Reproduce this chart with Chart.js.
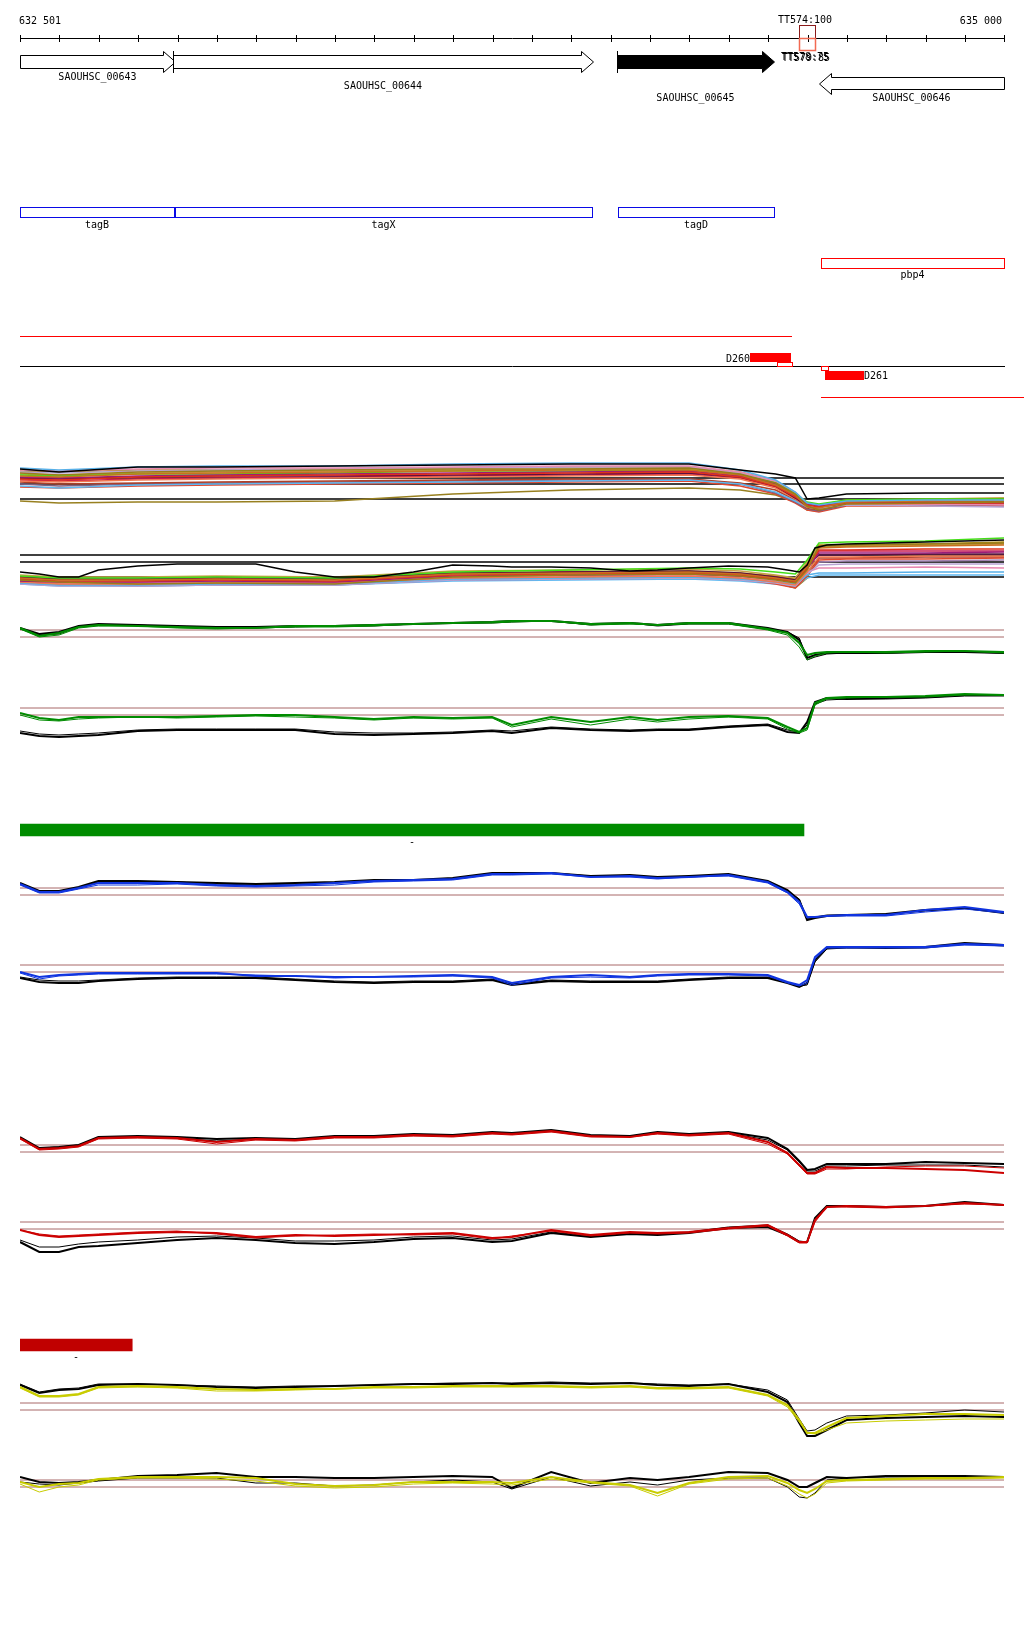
<!DOCTYPE html>
<html>
<head>
<meta charset="utf-8">
<title>SAOUHSC_00643 - 00646 region</title>
<script src="https://cdn.jsdelivr.net/npm/chart.js@4.4.1/dist/chart.umd.min.js"></script>
<style>
  body { margin: 0; background: #fff; }
  #page { position: relative; width: 1024px; height: 1640px; background: #fff; overflow: hidden; }
  .panel { position: absolute; left: 0; width: 1024px; }
</style>
</head>
<body>
<div id="page"></div>
<script>
// genome window
const START = 632501;
const END = 635000;
const RULER_TICKS = [632501, 632601, 632701, 632801, 632901, 633001, 633101, 633201, 633301, 633401,
  633501, 633601, 633701, 633801, 633901, 634001, 634101, 634201, 634301, 634401,
  634501, 634601, 634701, 634801, 634901, 635000];

// genes
const GENE_NAMES = ['SAOUHSC_00643', 'SAOUHSC_00644', 'SAOUHSC_00645', 'SAOUHSC_00646'];
const GENE_START = [632501, 632890, 634016, 634530];
const GENE_END = [632895, 633955, 634416, 635000];
const GENE_STRAND = ['+', '+', '+', '-'];

// terminator
const TERM_POS = 634500;
const TERM_LABEL = 'TT574:100';
const TERM_SUB_LABELS = ['TT578:75', 'TT579:85'];

// annotation boxes
const ANNOT_NAMES = ['tagB', 'tagX', 'tagD'];
const ANNOT_START = [632501, 632895, 634019];
const ANNOT_END = [632893, 633953, 634416];
const PBP_NAME = 'pbp4';
const PBP_START = 634535;
const PBP_END = 635000;

// transcripts
const TX_FWD_END = 634461;
const D260 = [634355, 634459];
const D260_BOX = [634423, 634461];
const D261 = [634545, 634644];
const D261_BOX = [634535, 634553];
const TX_REV_START = 634535;

// condition bars
const GREEN_BAR = [632501, 634492];
const RED_BAR = [632501, 632786];

// positions for the tiling profiles
const MX = [632501, 632600, 632800, 633000, 633300, 633600, 633900, 634200, 634330, 634420, 634470, 634500, 634530, 634600, 634800, 635000];
const F = [632501, 632550, 632600, 632650, 632700, 632800, 632900, 633000, 633100, 633200, 633300, 633400,
  633500, 633600, 633700, 633750, 633850, 633950, 634050, 634120, 634200, 634300, 634400, 634450,
  634480, 634500, 634520, 634550, 634600, 634700, 634800, 634900, 635000];

// all conditions, + strand
const ALL_PLUS_COLORS = ['#58b0e8', '#9a7d1a', '#c8701e', '#e0301c', '#9c1c78', '#44dd18', '#e888b0', '#b8a4d4', '#5a1040',
  '#f07850', '#c8a048', '#60b8f0', '#b04028', '#806080', '#e04830', '#988020', '#b08c10', '#c81850'];
const ALL_PLUS = [
  [4.7, 4.5, 4.8, 4.9, 4.9, 5.1, 5.2, 5.2, 4.5, 3.5, 2.3, 1.2, 1.0, 1.4, 1.5, 1.5],
  [4.2, 4.0, 4.3, 4.4, 4.5, 4.6, 4.6, 4.7, 4.1, 3.2, 2.1, 0.9, 0.5, 1.1, 1.2, 1.3],
  [3.9, 3.8, 4.1, 4.2, 4.3, 4.4, 4.5, 4.5, 4.0, 3.0, 2.0, 0.8, 0.7, 1.3, 1.4, 1.4],
  [3.6, 3.5, 3.8, 3.9, 4.0, 4.1, 4.2, 4.3, 3.8, 2.9, 1.8, 1.0, 0.8, 1.2, 1.2, 1.2],
  [3.8, 3.7, 3.9, 4.0, 4.1, 4.2, 4.3, 4.4, 3.9, 3.1, 1.9, 1.1, 0.9, 1.3, 1.3, 1.2],
  [4.0, 3.9, 4.1, 4.1, 4.2, 4.4, 4.4, 4.5, 4.0, 3.2, 2.1, 1.3, 1.1, 1.5, 1.6, 1.6],
  [4.5, 4.4, 4.6, 4.7, 4.7, 4.8, 4.9, 4.9, 4.3, 3.4, 2.3, 1.2, 0.9, 1.2, 1.1, 1.0],
  [4.3, 4.2, 4.4, 4.5, 4.6, 4.7, 4.8, 4.8, 4.2, 3.3, 2.1, 1.0, 0.7, 1.0, 0.9, 0.8],
  [3.7, 3.6, 3.8, 3.9, 3.9, 4.0, 4.1, 4.2, 3.8, 2.9, 1.7, 0.9, 0.7, 1.2, 1.2, 1.3],
  [3.4, 3.3, 3.5, 3.6, 3.7, 3.8, 3.9, 4.0, 3.6, 2.7, 1.6, 0.8, 0.6, 1.1, 1.1, 1.1],
  [4.1, 4.0, 4.2, 4.3, 4.4, 4.5, 4.6, 4.6, 4.1, 3.1, 2.0, 1.1, 0.9, 1.4, 1.5, 1.5],
  [2.9, 2.7, 3.0, 3.1, 3.2, 3.3, 3.4, 3.5, 3.1, 2.3, 1.4, 0.8, 0.6, 1.2, 1.2, 1.2],
  [3.3, 3.1, 3.2, 3.3, 3.4, 3.5, 3.6, 3.6, 3.2, 2.5, 1.5, 0.7, 0.5, 1.1, 1.1, 1.0],
  [3.1, 2.9, 3.1, 3.2, 3.3, 3.4, 3.5, 3.6, 3.1, 2.2, 1.3, 0.6, 0.4, 1.0, 1.0, 0.9],
  [2.8, 2.7, 2.9, 3.0, 3.1, 3.2, 3.3, 3.4, 2.9, 2.1, 1.2, 0.5, 0.3, 0.9, 0.9, 0.9],
  [1.4, 1.2, 1.3, 1.3, 1.4, 2.1, 2.5, 2.7, 2.5, 2.0, 1.3, 0.5, 0.4, 1.1, 1.3, 1.4],
  [4.4, 4.3, 4.5, 4.5, 4.6, 4.7, 4.8, 4.8, 4.3, 3.4, 2.2, 1.2, 1.0, 1.5, 1.6, 1.7],
  [3.5, 3.4, 3.6, 3.7, 3.8, 3.9, 4.0, 4.1, 3.7, 2.8, 1.7, 0.9, 0.7, 1.1, 1.2, 1.2]
];
const ALL_PLUS_TOP = [4.6, 4.3, 4.8, 4.8, 4.9, 5.0, 5.1, 5.1, 4.5, 4.1, 3.7, 1.6, 1.7, 2.1, 2.2, 2.2];
const ALL_PLUS_REFS = [3.7, 3.1, 1.6];

// all conditions, - strand
const ALL_MINUS_COLORS = ['#44dd18', '#9a7d1a', '#c8701e', '#e0301c', '#9c1c78', '#5a1040', '#f07850', '#58b0e8', '#b8a4d4',
  '#e888b0', '#c8a048', '#e04830', '#c81850', '#a080b0', '#b08c10', '#60b8f0', '#988020', '#b04028'];
const ALL_MINUS = [
  [1.7, 1.5, 1.5, 1.6, 1.5, 2.1, 2.3, 2.5, 2.4, 2.1, 1.9, 3.3, 5.0, 5.1, 5.2, 5.5],
  [1.3, 1.1, 0.9, 1.0, 0.9, 1.6, 1.8, 1.9, 1.7, 1.3, 1.0, 2.3, 4.7, 4.8, 4.9, 5.0],
  [1.5, 1.3, 1.3, 1.4, 1.3, 1.9, 2.0, 2.1, 1.9, 1.5, 1.2, 2.7, 4.5, 4.6, 4.7, 4.8],
  [1.4, 1.2, 1.2, 1.3, 1.2, 1.8, 1.9, 2.0, 1.8, 1.4, 1.1, 2.5, 4.3, 4.3, 4.4, 4.4],
  [1.2, 1.1, 1.1, 1.2, 1.1, 1.7, 1.8, 1.9, 1.7, 1.4, 1.1, 2.4, 4.0, 4.0, 4.0, 4.1],
  [1.6, 1.4, 1.4, 1.5, 1.4, 2.0, 2.1, 2.2, 2.0, 1.6, 1.3, 2.7, 3.8, 3.8, 3.9, 3.9],
  [1.1, 0.9, 0.9, 1.0, 1.0, 1.5, 1.6, 1.7, 1.5, 1.1, 0.8, 2.1, 3.6, 3.6, 3.7, 3.7],
  [1.0, 0.8, 0.8, 0.9, 0.9, 1.4, 1.5, 1.6, 1.4, 1.1, 0.9, 1.8, 2.0, 2.0, 2.1, 2.1],
  [0.9, 0.7, 0.7, 0.8, 0.8, 1.3, 1.4, 1.5, 1.3, 1.0, 0.7, 1.9, 2.8, 2.9, 2.9, 2.9],
  [1.3, 1.0, 1.0, 1.1, 1.1, 1.6, 1.7, 1.8, 1.6, 1.2, 0.9, 2.1, 2.5, 2.5, 2.6, 2.5],
  [1.8, 1.6, 1.6, 1.7, 1.6, 2.2, 2.3, 2.4, 2.2, 1.8, 1.5, 3.1, 4.7, 4.7, 4.8, 4.9],
  [1.1, 0.9, 0.8, 0.9, 0.9, 1.5, 1.6, 1.7, 1.4, 0.9, 0.5, 1.7, 3.3, 3.4, 3.4, 3.5],
  [1.5, 1.4, 1.4, 1.5, 1.4, 1.9, 2.1, 2.1, 1.9, 1.6, 1.3, 2.8, 4.2, 4.2, 4.2, 4.2],
  [1.0, 0.8, 0.7, 0.8, 0.8, 1.3, 1.4, 1.5, 1.3, 1.0, 0.7, 1.9, 3.1, 3.2, 3.2, 3.3],
  [1.6, 1.4, 1.3, 1.4, 1.4, 2.0, 2.1, 2.2, 2.0, 1.7, 1.4, 3.0, 4.8, 4.8, 4.9, 5.1],
  [0.9, 0.7, 0.7, 0.8, 0.8, 1.2, 1.3, 1.4, 1.2, 0.9, 0.7, 1.5, 1.8, 1.8, 1.8, 1.8],
  [1.4, 1.0, 0.8, 0.9, 1.0, 1.5, 1.7, 1.8, 1.5, 1.0, 0.5, 1.5, 4.6, 4.7, 4.8, 5.0],
  [1.2, 1.0, 1.0, 1.1, 1.0, 1.6, 1.7, 1.8, 1.6, 1.1, 0.6, 1.9, 3.5, 3.5, 3.6, 3.6]
];
const ALL_MINUS_BLACK = [2.1, 1.9, 1.6, 1.6, 2.3, 2.7, 2.9, 2.9, 2.9, 2.1, 1.6, 1.6, 2.1, 2.8, 2.7, 2.6, 2.6, 2.5, 2.2, 2.3,
  2.5, 2.7, 2.6, 2.3, 2.1, 2.8, 4.5, 4.8, 4.9, 5.0, 5.1, 5.2, 5.3];
const ALL_MINUS_REFS = [3.8, 3.1, 1.6];

// green condition
const GREEN_PLUS = [
  [4.2, 3.4, 3.7, 4.3, 4.5, 4.4, 4.3, 4.2, 4.2, 4.4, 4.4, 4.5, 4.6, 4.7, 4.8, 4.9, 4.9, 4.6, 4.7, 4.5, 4.7, 4.7, 4.1, 3.7, 2.7, 1.5, 1.7, 1.8, 1.8, 1.8, 1.9, 1.9, 1.8],
  [4.1, 3.3, 3.5, 4.2, 4.4, 4.4, 4.2, 4.1, 4.2, 4.3, 4.3, 4.4, 4.6, 4.7, 4.7, 4.8, 4.9, 4.5, 4.6, 4.5, 4.6, 4.6, 4.0, 3.5, 2.3, 1.0, 1.4, 1.7, 1.8, 1.7, 1.8, 1.9, 1.7]
];
const GREEN_PLUS_CTRL = [
  [4.2, 3.6, 3.8, 4.4, 4.6, 4.5, 4.4, 4.3, 4.3, 4.4, 4.4, 4.5, 4.6, 4.7, 4.8, 4.9, 4.9, 4.6, 4.7, 4.5, 4.7, 4.7, 4.2, 3.8, 3.0, 1.2, 1.5, 1.7, 1.7, 1.7, 1.8, 1.8, 1.7],
  [4.1, 3.5, 3.6, 4.3, 4.5, 4.5, 4.3, 4.2, 4.2, 4.3, 4.4, 4.4, 4.6, 4.7, 4.7, 4.8, 4.9, 4.5, 4.7, 4.4, 4.6, 4.6, 4.1, 3.8, 3.2, 1.0, 1.3, 1.6, 1.7, 1.7, 1.8, 1.8, 1.7]
];
const GREEN_PLUS_REFS = [4.0, 3.3];
const GREEN_MINUS = [
  [3.2, 2.7, 2.5, 2.8, 2.8, 2.8, 2.8, 2.9, 3.0, 3.0, 2.8, 2.6, 2.8, 2.7, 2.8, 2.0, 2.8, 2.3, 2.8, 2.5, 2.8, 2.9, 2.7, 1.8, 1.3, 1.7, 4.2, 4.7, 4.8, 4.8, 4.9, 5.1, 5.0],
  [3.0, 2.5, 2.4, 2.6, 2.7, 2.8, 2.7, 2.8, 2.9, 2.8, 2.7, 2.5, 2.7, 2.6, 2.7, 1.8, 2.6, 2.0, 2.6, 2.3, 2.6, 2.8, 2.6, 1.6, 1.2, 1.5, 4.0, 4.6, 4.7, 4.8, 4.8, 5.0, 5.0]
];
const GREEN_MINUS_CTRL = [
  [1.2, 0.9, 0.8, 0.9, 1.0, 1.4, 1.5, 1.5, 1.5, 1.5, 1.1, 1.0, 1.1, 1.2, 1.4, 1.2, 1.7, 1.5, 1.4, 1.5, 1.5, 1.8, 2.0, 1.3, 1.2, 2.3, 4.3, 4.7, 4.6, 4.7, 4.8, 5.0, 5.0],
  [1.4, 1.1, 1.0, 1.1, 1.2, 1.5, 1.6, 1.6, 1.6, 1.6, 1.3, 1.2, 1.2, 1.3, 1.5, 1.4, 1.8, 1.6, 1.5, 1.6, 1.6, 1.9, 2.1, 1.5, 1.3, 2.0, 4.1, 4.5, 4.6, 4.6, 4.7, 4.9, 4.9]
];
const GREEN_MINUS_REFS = [3.7, 3.0];

// blue condition
const BLUE_PLUS = [
  [4.1, 3.3, 3.3, 3.7, 4.2, 4.2, 4.2, 4.0, 3.9, 4.0, 4.2, 4.4, 4.5, 4.6, 5.1, 5.1, 5.2, 4.8, 4.9, 4.7, 4.8, 5.0, 4.3, 3.3, 2.3, 0.8, 0.8, 0.9, 1.0, 1.0, 1.5, 1.8, 1.3],
  [4.0, 3.2, 3.2, 3.6, 4.0, 4.0, 4.1, 3.9, 3.8, 3.9, 4.0, 4.3, 4.4, 4.5, 5.0, 5.0, 5.1, 4.8, 4.8, 4.6, 4.8, 4.9, 4.2, 3.2, 2.1, 0.7, 0.8, 0.9, 0.9, 0.9, 1.3, 1.6, 1.2]
];
const BLUE_PLUS_CTRL = [
  [4.2, 3.4, 3.4, 3.8, 4.4, 4.4, 4.3, 4.2, 4.1, 4.2, 4.3, 4.5, 4.5, 4.7, 5.2, 5.2, 5.2, 4.9, 5.0, 4.8, 4.9, 5.1, 4.4, 3.5, 2.5, 0.5, 0.7, 0.9, 1.0, 1.1, 1.5, 1.7, 1.2],
  [4.1, 3.3, 3.4, 3.7, 4.3, 4.3, 4.3, 4.1, 4.0, 4.1, 4.2, 4.4, 4.5, 4.6, 5.1, 5.1, 5.2, 4.9, 4.9, 4.7, 4.8, 5.0, 4.3, 3.4, 2.6, 0.6, 0.8, 1.0, 1.0, 1.1, 1.4, 1.7, 1.2]
];
const BLUE_PLUS_REFS = [3.7, 3.0];
const BLUE_MINUS = [
  [2.3, 1.8, 2.0, 2.1, 2.2, 2.2, 2.2, 2.2, 1.9, 1.9, 1.8, 1.8, 1.9, 2.0, 1.8, 1.2, 1.8, 2.0, 1.8, 2.0, 2.1, 2.1, 2.0, 1.3, 1.0, 1.5, 3.8, 4.8, 4.8, 4.8, 4.8, 5.1, 5.0],
  [2.2, 1.6, 1.9, 2.0, 2.1, 2.1, 2.1, 2.1, 2.0, 1.9, 1.7, 1.8, 1.8, 1.9, 1.7, 1.0, 1.7, 1.8, 1.7, 1.9, 2.0, 2.0, 1.9, 1.2, 0.9, 1.2, 3.6, 4.7, 4.7, 4.7, 4.7, 5.0, 4.9]
];
const BLUE_MINUS_CTRL = [
  [1.7, 1.3, 1.2, 1.2, 1.4, 1.6, 1.7, 1.7, 1.7, 1.5, 1.3, 1.2, 1.3, 1.3, 1.5, 1.0, 1.4, 1.3, 1.3, 1.3, 1.5, 1.7, 1.7, 1.2, 0.8, 1.2, 3.5, 4.7, 4.8, 4.7, 4.8, 5.2, 5.0],
  [1.8, 1.5, 1.4, 1.4, 1.5, 1.7, 1.8, 1.8, 1.8, 1.6, 1.4, 1.3, 1.4, 1.4, 1.6, 1.1, 1.5, 1.4, 1.4, 1.4, 1.6, 1.8, 1.8, 1.3, 0.9, 1.0, 3.3, 4.6, 4.7, 4.7, 4.7, 5.1, 4.9]
];
const BLUE_MINUS_REFS = [3.0, 2.3];

// red condition
const RED_PLUS = [
  [4.2, 3.1, 3.2, 3.4, 4.2, 4.3, 4.2, 3.8, 4.1, 4.0, 4.3, 4.3, 4.5, 4.4, 4.7, 4.6, 4.9, 4.4, 4.3, 4.7, 4.5, 4.7, 3.8, 2.7, 1.5, 0.7, 0.7, 1.3, 1.2, 1.2, 1.1, 1.0, 0.7],
  [4.1, 3.0, 3.1, 3.3, 4.1, 4.2, 4.1, 3.6, 4.0, 3.9, 4.2, 4.2, 4.4, 4.3, 4.6, 4.5, 4.8, 4.3, 4.3, 4.6, 4.4, 4.6, 3.6, 2.6, 1.4, 0.6, 0.6, 1.1, 1.1, 1.3, 1.4, 1.4, 1.2]
];
const RED_PLUS_CTRL = [
  [4.3, 3.2, 3.3, 3.5, 4.3, 4.4, 4.3, 4.1, 4.2, 4.1, 4.4, 4.4, 4.6, 4.5, 4.8, 4.7, 5.0, 4.5, 4.4, 4.8, 4.6, 4.8, 4.2, 3.1, 1.9, 1.0, 1.1, 1.6, 1.6, 1.6, 1.8, 1.7, 1.6],
  [4.2, 3.2, 3.3, 3.5, 4.2, 4.3, 4.2, 3.9, 4.1, 4.0, 4.3, 4.3, 4.5, 4.4, 4.7, 4.6, 4.9, 4.4, 4.4, 4.7, 4.5, 4.7, 4.0, 3.0, 1.8, 0.9, 0.9, 1.4, 1.4, 1.5, 1.5, 1.5, 1.3]
];
const RED_PLUS_REFS = [3.5, 2.8];
const RED_MINUS = [
  [3.0, 2.5, 2.3, 2.4, 2.5, 2.7, 2.8, 2.7, 2.3, 2.5, 2.4, 2.5, 2.6, 2.7, 2.2, 2.3, 3.0, 2.5, 2.8, 2.7, 2.8, 3.2, 3.5, 2.5, 1.8, 1.8, 4.0, 5.3, 5.4, 5.3, 5.4, 5.7, 5.5],
  [3.0, 2.6, 2.4, 2.5, 2.6, 2.8, 2.9, 2.6, 2.2, 2.4, 2.5, 2.6, 2.5, 2.6, 2.1, 2.4, 2.9, 2.4, 2.7, 2.6, 2.7, 3.1, 3.4, 2.4, 1.7, 1.7, 3.8, 5.3, 5.3, 5.2, 5.4, 5.6, 5.5]
];
const RED_MINUS_CTRL = [
  [1.8, 0.8, 0.8, 1.3, 1.4, 1.7, 2.0, 2.2, 2.0, 1.7, 1.6, 1.8, 2.1, 2.2, 1.8, 1.9, 2.7, 2.3, 2.6, 2.5, 2.7, 3.2, 3.3, 2.5, 1.8, 1.8, 4.2, 5.4, 5.4, 5.3, 5.4, 5.8, 5.5],
  [2.0, 1.3, 1.3, 1.6, 1.8, 2.0, 2.3, 2.4, 2.2, 1.9, 1.9, 2.0, 2.3, 2.4, 2.0, 2.1, 2.8, 2.4, 2.7, 2.6, 2.8, 3.3, 3.5, 2.6, 1.9, 1.8, 4.1, 5.3, 5.4, 5.3, 5.4, 5.7, 5.5]
];
const RED_MINUS_REFS = [3.8, 3.1];

// yellow condition
const YELLOW_PLUS = [
  [5.8, 4.9, 4.9, 5.1, 5.8, 5.9, 5.8, 5.6, 5.5, 5.6, 5.6, 5.8, 5.8, 5.9, 5.9, 5.9, 5.9, 5.8, 5.9, 5.7, 5.7, 5.8, 5.0, 4.0, 2.5, 1.2, 1.2, 1.8, 2.7, 2.9, 3.1, 3.1, 3.0],
  [5.7, 4.8, 4.8, 5.0, 5.7, 5.8, 5.7, 5.4, 5.4, 5.5, 5.6, 5.7, 5.7, 5.8, 5.8, 5.8, 5.8, 5.7, 5.8, 5.6, 5.6, 5.7, 4.9, 3.8, 2.3, 1.2, 1.1, 1.5, 2.2, 2.4, 2.5, 2.6, 2.6]
];
const YELLOW_PLUS_CTRL = [
  [6.0, 5.2, 5.5, 5.6, 6.0, 6.1, 6.0, 5.8, 5.7, 5.8, 5.9, 6.0, 6.1, 6.1, 6.2, 6.1, 6.2, 6.1, 6.2, 6.0, 5.9, 6.1, 5.3, 4.3, 2.2, 0.9, 0.9, 1.5, 2.5, 2.7, 2.8, 2.9, 2.8],
  [6.1, 5.3, 5.6, 5.7, 6.1, 6.1, 6.0, 5.9, 5.8, 5.9, 5.9, 6.0, 6.1, 6.2, 6.2, 6.2, 6.3, 6.2, 6.2, 6.1, 6.0, 6.1, 5.5, 4.5, 2.6, 1.4, 1.5, 2.2, 2.9, 3.0, 3.2, 3.5, 3.3]
];
const YELLOW_PLUS_REFS = [4.2, 3.5];
const YELLOW_MINUS = [
  [2.8, 2.3, 2.6, 2.7, 3.1, 3.3, 3.3, 3.3, 3.2, 2.6, 2.4, 2.5, 2.8, 2.8, 2.8, 2.7, 3.3, 2.8, 2.5, 1.7, 2.7, 3.3, 3.4, 2.7, 2.0, 1.7, 2.1, 2.9, 3.0, 3.1, 3.2, 3.2, 3.3],
  [2.6, 1.8, 2.3, 2.5, 3.0, 3.2, 3.2, 3.1, 2.9, 2.4, 2.2, 2.3, 2.6, 2.7, 2.6, 2.5, 3.1, 2.7, 2.4, 1.4, 2.6, 3.1, 3.2, 2.4, 1.6, 1.2, 1.6, 2.7, 2.9, 3.0, 3.1, 3.1, 3.2]
];
const YELLOW_MINUS_CTRL = [
  [3.3, 2.8, 2.7, 2.8, 3.0, 3.4, 3.5, 3.7, 3.3, 3.3, 3.2, 3.2, 3.3, 3.4, 3.3, 2.2, 3.8, 2.7, 3.2, 3.0, 3.3, 3.8, 3.7, 3.0, 2.3, 2.3, 2.7, 3.3, 3.2, 3.4, 3.4, 3.4, 3.3],
  [2.8, 2.6, 2.5, 2.7, 2.9, 3.2, 3.2, 3.2, 2.7, 2.7, 2.4, 2.5, 2.8, 3.0, 2.8, 2.1, 3.3, 2.4, 2.8, 2.5, 3.0, 3.2, 3.2, 2.3, 1.3, 1.2, 1.7, 3.0, 3.2, 3.3, 3.3, 3.3, 3.3]
];
const YELLOW_MINUS_REFS = [3.0, 2.3];

const FONT = '10px "DejaVu Sans Mono"';
const REF_COLOR = '#a86868';
const page = document.getElementById('page');

function makeCanvas(top, height) {
    const div = document.createElement('div');
    div.className = 'panel';
    div.style.top = top + 'px';
    div.style.height = height + 'px';
    const cv = document.createElement('canvas');
    div.appendChild(cv);
    page.appendChild(div);
    return cv;
}

function baseOptions(yMax) {
    return {
        responsive: true,
        maintainAspectRatio: false,
        animation: false,
        events: [],
        layout: { padding: { left: 20, right: 20, top: 0, bottom: 0 } },
        plugins: { legend: { display: false }, tooltip: { enabled: false } },
        scales: {
            x: { type: 'linear', min: START, max: END, display: false },
            y: { type: 'linear', min: 0, max: yMax, display: false }
        }
    };
}

function line(xs, ys, color, width, order) {
    return {
        data: xs.map((x, i) => ({ x: x, y: ys[i] })),
        borderColor: color,
        borderWidth: width,
        pointRadius: 0,
        tension: 0,
        fill: false,
        order: order
    };
}

function hline(v, color) {
    return line([START, END], [v, v], color, 1, 3);
}

// one profile plot: colored condition lines over control (black) and two reference lines
function conditionPlot(top, height, colored, ctrl, refs, color) {
    const ds = [];
    colored.forEach((ys, i) => ds.push(line(F, ys, color, i === 0 ? 2 : 1, 1)));
    ctrl.forEach((ys, i) => ds.push(line(F, ys, '#000', i === 0 ? 2 : 1, 2)));
    refs.forEach(v => ds.push(hline(v, REF_COLOR)));
    new Chart(makeCanvas(top, height), { type: 'line', data: { datasets: ds }, options: baseOptions(height / 10) });
}

// ---- map of the region (ruler, genes, annotation, transcripts) ----
const mapPlugin = {
    id: 'regionMap',
    afterDraw(chart) {
        const ctx = chart.ctx;
        const xs = chart.scales.x;
        const px = v => Math.round(xs.getPixelForValue(v));
        const fmt = n => String(n).replace(/\B(?=(\d{3})+$)/g, ' ');
        ctx.save();
        ctx.font = FONT;
        ctx.fillStyle = '#000';
        ctx.strokeStyle = '#000';
        ctx.lineWidth = 1;

        // ruler
        ctx.beginPath();
        ctx.moveTo(px(START), 38.5);
        ctx.lineTo(px(END) + 1, 38.5);
        RULER_TICKS.forEach(t => {
            ctx.moveTo(px(t) + 0.5, 35);
            ctx.lineTo(px(t) + 0.5, 42);
        });
        ctx.stroke();
        ctx.textAlign = 'left';
        ctx.fillText(fmt(START), px(START) - 1, 24);
        ctx.textAlign = 'right';
        ctx.fillText(fmt(END), px(END) - 2, 24);

        // terminator marker
        const t1 = px(TERM_POS - 20), t2 = px(TERM_POS + 20);
        ctx.strokeStyle = '#8b1a1a';
        ctx.strokeRect(t1 + 0.5, 25.5, t2 - t1, 13);
        ctx.strokeStyle = '#f26a52';
        ctx.lineWidth = 1.5;
        ctx.strokeRect(t1 + 0.5, 38.5, t2 - t1, 12);
        ctx.lineWidth = 1;
        ctx.strokeStyle = '#000';
        ctx.textAlign = 'center';
        ctx.fillText(TERM_LABEL, px(TERM_POS) - 2, 23);
        ctx.fillText(TERM_SUB_LABELS[0], px(TERM_POS) - 2, 60);
        ctx.fillText(TERM_SUB_LABELS[1], px(TERM_POS) - 1, 61);

        // genes
        const head = 12;
        const rows = [[55, 68, 51, 72, 80], [55, 68, 51, 72, 89], [55, 68, 51, 72, 101], [77, 89, 73, 94, 101]];
        GENE_NAMES.forEach((name, i) => {
            const x1 = px(GENE_START[i]), x2 = px(GENE_END[i]);
            const [yt, yb, ht, hb, ly] = rows[i];
            const mid = (ht + hb) / 2;
            ctx.beginPath();
            if (GENE_STRAND[i] === '+') {
                ctx.moveTo(x1 + 0.5, yt + 0.5);
                ctx.lineTo(x2 - head + 0.5, yt + 0.5);
                ctx.lineTo(x2 - head + 0.5, ht + 0.5);
                ctx.lineTo(x2 + 0.5, mid + 0.5);
                ctx.lineTo(x2 - head + 0.5, hb + 0.5);
                ctx.lineTo(x2 - head + 0.5, yb + 0.5);
                ctx.lineTo(x1 + 0.5, yb + 0.5);
            } else {
                ctx.moveTo(x2 + 0.5, yt + 0.5);
                ctx.lineTo(x1 + head + 0.5, yt + 0.5);
                ctx.lineTo(x1 + head + 0.5, ht + 0.5);
                ctx.lineTo(x1 + 0.5, mid + 0.5);
                ctx.lineTo(x1 + head + 0.5, hb + 0.5);
                ctx.lineTo(x1 + head + 0.5, yb + 0.5);
                ctx.lineTo(x2 + 0.5, yb + 0.5);
            }
            ctx.closePath();
            ctx.fillStyle = i === 2 ? '#000' : '#fff';
            ctx.fill();
            ctx.stroke();
            if (GENE_STRAND[i] === '+' && GENE_START[i] > START) {
                ctx.beginPath();
                ctx.moveTo(x1 + 0.5, ht);
                ctx.lineTo(x1 + 0.5, hb + 1);
                ctx.stroke();
            }
            ctx.fillStyle = '#000';
            ctx.fillText(name, (x1 + x2) / 2, ly);
        });

        // annotation boxes
        ctx.strokeStyle = '#0a0ae6';
        ANNOT_NAMES.forEach((name, i) => {
            const x1 = px(ANNOT_START[i]), x2 = px(ANNOT_END[i]);
            ctx.strokeRect(x1 + 0.5, 207.5, x2 - x1, 10);
            ctx.fillText(name, (x1 + x2) / 2, 228);
        });
        ctx.strokeStyle = '#ff0000';
        const p1 = px(PBP_START), p2 = px(PBP_END);
        ctx.strokeRect(p1 + 0.5, 258.5, p2 - p1, 10);
        ctx.fillText(PBP_NAME, (p1 + p2) / 2, 278);

        // transcripts
        ctx.beginPath();
        ctx.moveTo(px(START), 336.5);
        ctx.lineTo(px(TX_FWD_END), 336.5);
        ctx.moveTo(px(TX_REV_START), 397.5);
        ctx.lineTo(chart.width, 397.5);
        ctx.stroke();
        ctx.strokeStyle = '#000';
        ctx.beginPath();
        ctx.moveTo(px(START), 366.5);
        ctx.lineTo(px(END) + 1, 366.5);
        ctx.stroke();
        ctx.fillStyle = '#ff0000';
        ctx.fillRect(px(D260[0]), 353, px(D260[1]) - px(D260[0]), 9);
        ctx.fillRect(px(D261[0]), 371, px(D261[1]) - px(D261[0]), 9);
        ctx.strokeStyle = '#ff0000';
        ctx.strokeRect(px(D260_BOX[0]) + 0.5, 362.5, px(D260_BOX[1]) - px(D260_BOX[0]), 4);
        ctx.strokeRect(px(D261_BOX[0]) + 0.5, 366.5, px(D261_BOX[1]) - px(D261_BOX[0]), 4);
        ctx.fillStyle = '#000';
        ctx.textAlign = 'right';
        ctx.fillText('D260', px(D260[0]), 362);
        ctx.textAlign = 'left';
        ctx.fillText('D261', px(D261[1]), 379);
        ctx.restore();
    }
};

new Chart(makeCanvas(0, 420), {
    type: 'line',
    data: { datasets: [] },
    options: baseOptions(1),
    plugins: [mapPlugin]
});

// ---- all conditions ----
(function () {
    const ds = [];
    ALL_PLUS.forEach((ys, i) => ds.push(line(MX, ys, ALL_PLUS_COLORS[i], 1.5, 1)));
    ds.unshift(line(MX, ALL_PLUS_TOP, '#000', 1.5, 1));
    ALL_PLUS_REFS.forEach(v => ds.push(line([START, END], [v, v], '#000', 1.5, 3)));
    new Chart(makeCanvas(455, 60), { type: 'line', data: { datasets: ds }, options: baseOptions(6) });

    const ds2 = [];
    ds2.push(line(F, ALL_MINUS_BLACK, '#000', 1.5, 1));
    ALL_MINUS.forEach((ys, i) => ds2.push(line(MX, ys, ALL_MINUS_COLORS[i], 1.5, 1)));
    ALL_MINUS_REFS.forEach(v => ds2.push(line([START, END], [v, v], '#000', 1.5, 3)));
    new Chart(makeCanvas(533, 60), { type: 'line', data: { datasets: ds2 }, options: baseOptions(6) });
})();

// ---- per condition ----
conditionPlot(610, 60, GREEN_PLUS, GREEN_PLUS_CTRL, GREEN_PLUS_REFS, '#008c00');
conditionPlot(685, 60, GREEN_MINUS, GREEN_MINUS_CTRL, GREEN_MINUS_REFS, '#008c00');
conditionPlot(865, 60, BLUE_PLUS, BLUE_PLUS_CTRL, BLUE_PLUS_REFS, '#1034e0');
conditionPlot(935, 60, BLUE_MINUS, BLUE_MINUS_CTRL, BLUE_MINUS_REFS, '#1034e0');
conditionPlot(1120, 60, RED_PLUS, RED_PLUS_CTRL, RED_PLUS_REFS, '#cc0000');
conditionPlot(1195, 65, RED_MINUS, RED_MINUS_CTRL, RED_MINUS_REFS, '#cc0000');
conditionPlot(1375, 70, YELLOW_PLUS, YELLOW_PLUS_CTRL, YELLOW_PLUS_REFS, '#c8cc00');
conditionPlot(1460, 50, YELLOW_MINUS, YELLOW_MINUS_CTRL, YELLOW_MINUS_REFS, '#c8cc00');

// ---- condition bars ----
const barLabel = {
    id: 'barLabel',
    afterDraw(chart) {
        const bar = chart.getDatasetMeta(0).data[0];
        const ctx = chart.ctx;
        ctx.save();
        ctx.font = FONT;
        ctx.fillStyle = '#000';
        ctx.textAlign = 'center';
        ctx.fillText('-', (bar.x + bar.base) / 2, 27);
        ctx.restore();
    }
};

function conditionBar(top, range, color) {
    const opts = baseOptions(1);
    opts.indexAxis = 'y';
    opts.layout.padding.bottom = 8;
    opts.scales.y = { type: 'category', display: false };
    new Chart(makeCanvas(top, 32), {
        type: 'bar',
        data: { labels: [''], datasets: [{ data: [range], backgroundColor: color, barThickness: 12, borderWidth: 0 }] },
        options: opts,
        plugins: [barLabel]
    });
}

conditionBar(818, GREEN_BAR, '#008c00');
conditionBar(1333, RED_BAR, '#c00000');
</script>
